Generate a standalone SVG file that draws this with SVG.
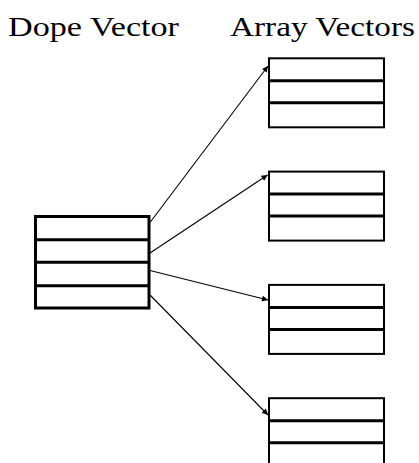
<svg xmlns="http://www.w3.org/2000/svg" width="419" height="463" viewBox="0 0 419 463">
  <style>
    .title { font-family: "Liberation Serif", "DejaVu Serif", serif; font-size: 27px; fill: #000; }
    .frame { fill: #fff; stroke: #000; }
    .dope .frame { stroke-width: 3; }
    .dope .row { stroke: #000; stroke-width: 3; }
    .arr .frame { stroke-width: 2; }
    .arr .row { stroke: #000; stroke-width: 3; }
    .link { stroke: #000; stroke-width: 1.1; fill: none; marker-end: url(#head); }
  </style>
  <defs>
    <marker id="head" viewBox="0 0 10 10" refX="10" refY="5" markerWidth="9" markerHeight="6" markerUnits="userSpaceOnUse" orient="auto">
      <path d="M0,0 L10,5 L0,10 z" fill="#000"/>
    </marker>
  </defs>
  <rect width="419" height="463" fill="#fff"/>

  <text class="title" x="8" y="36" textLength="171" lengthAdjust="spacingAndGlyphs">Dope Vector</text>
  <text class="title" x="230" y="36" textLength="185" lengthAdjust="spacingAndGlyphs">Array Vectors</text>

  <g id="dope-vector" class="dope">
    <rect class="frame" x="35.5" y="216.5" width="113.5" height="91.5"/>
    <line class="row" x1="35.5" y1="239.7" x2="149" y2="239.7"/>
    <line class="row" x1="35.5" y1="262.3" x2="149" y2="262.3"/>
    <line class="row" x1="35.5" y1="285.8" x2="149" y2="285.8"/>
  </g>

  <g id="array-1" class="arr">
    <rect class="frame" x="269" y="58.3" width="115" height="69"/>
    <line class="row" x1="269" y1="80.8" x2="384" y2="80.8"/>
    <line class="row" x1="269" y1="102.8" x2="384" y2="102.8"/>
  </g>
  <g id="array-2" class="arr">
    <rect class="frame" x="269" y="171.6" width="115" height="69"/>
    <line class="row" x1="269" y1="194.1" x2="384" y2="194.1"/>
    <line class="row" x1="269" y1="216.1" x2="384" y2="216.1"/>
  </g>
  <g id="array-3" class="arr">
    <rect class="frame" x="269" y="284.9" width="115" height="69"/>
    <line class="row" x1="269" y1="307.4" x2="384" y2="307.4"/>
    <line class="row" x1="269" y1="329.4" x2="384" y2="329.4"/>
  </g>
  <g id="array-4" class="arr">
    <rect class="frame" x="269" y="398.2" width="115" height="69"/>
    <line class="row" x1="269" y1="420.7" x2="384" y2="420.7"/>
    <line class="row" x1="269" y1="442.7" x2="384" y2="442.7"/>
  </g>

  <g id="connectors">
    <line class="link" x1="150" y1="222.5" x2="268" y2="66"/>
    <line class="link" x1="150" y1="253" x2="267.5" y2="175"/>
    <line class="link" x1="150" y1="270.5" x2="268" y2="300"/>
    <line class="link" x1="150" y1="295" x2="268" y2="415"/>
  </g>
</svg>
